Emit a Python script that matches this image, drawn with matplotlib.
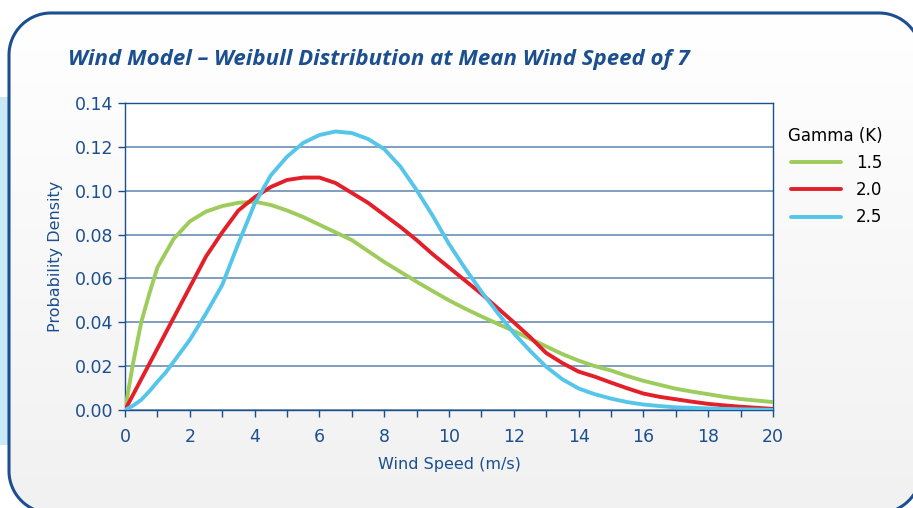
import numpy as np
import matplotlib
matplotlib.use("Agg")
import matplotlib.pyplot as plt
from matplotlib.patches import Polygon, Rectangle

# wind speed samples (m/s)
speed = [0, 0.25, 0.5, 0.75, 1, 1.25, 1.5, 2, 2.5, 3, 3.5, 4, 4.5, 5, 5.5, 6, 6.5,
         7, 7.5, 8, 8.5, 9, 9.5, 10, 10.5, 11, 11.5, 12, 12.5, 13, 13.5, 14, 14.5,
         15, 15.5, 16, 16.5, 17, 17.5, 18, 18.5, 19, 19.5, 20]

# probability density per shape factor
k15 = [0, 0.0214, 0.040, 0.053, 0.065, 0.0715, 0.078, 0.086, 0.0905, 0.093, 0.0945,
       0.095, 0.0935, 0.091, 0.088, 0.0845, 0.081, 0.0775, 0.0725, 0.0675, 0.063,
       0.0585, 0.0542, 0.050, 0.0462, 0.0427, 0.0393, 0.036, 0.0325, 0.029, 0.0255,
       0.0225, 0.020, 0.018, 0.0155, 0.0133, 0.0115, 0.0097, 0.0084, 0.0072, 0.006,
       0.005, 0.0043, 0.0036]
k20 = [0, 0.007, 0.014, 0.021, 0.028, 0.035, 0.042, 0.056, 0.070, 0.081, 0.091,
       0.097, 0.1017, 0.1049, 0.106, 0.106, 0.1035, 0.099, 0.0945, 0.089, 0.0835,
       0.0775, 0.071, 0.065, 0.059, 0.053, 0.0465, 0.040, 0.0333, 0.026, 0.0214,
       0.0175, 0.0152, 0.0125, 0.0099, 0.0075, 0.006, 0.0049, 0.0038, 0.0028, 0.0021,
       0.0015, 0.001, 0.0005]
k25 = [0, 0.002, 0.0046, 0.0085, 0.0129, 0.017, 0.022, 0.032, 0.044, 0.057, 0.076,
       0.094, 0.107, 0.1155, 0.1218, 0.1254, 0.127, 0.1263, 0.1236, 0.119, 0.111,
       0.1003, 0.0885, 0.0757, 0.0645, 0.054, 0.0443, 0.035, 0.027, 0.0197, 0.014,
       0.0098, 0.0072, 0.0052, 0.0036, 0.0025, 0.0018, 0.0012, 0.001, 0.0007, 0.0005,
       0.0003, 0.0002, 0.0]

labels = ["1.5", "2.0", "2.5"]
colors = ["#9dcc5c", "#e31f2a", "#55c6ea"]
navy = "#1b4f8f"

W, H = 913, 508
fig = plt.figure(figsize=(W / 100, H / 100), dpi=100)


def rounded_box(x0, y0, x1, y1, r, n=30):
    # corners in pixel coords, y grows downward
    pts = []
    for cx, cy, a0 in [(x1 - r, y0 + r, -90), (x1 - r, y1 - r, 0),
                       (x0 + r, y1 - r, 90), (x0 + r, y0 + r, 180)]:
        a = np.radians(np.linspace(a0, a0 + 90, n))
        pts += list(zip(cx + r * np.cos(a), cy + r * np.sin(a)))
    return np.array(pts)


# background layer in pixel units
bg = fig.add_axes([0, 0, 1, 1], zorder=-1)
bg.axis("off")
bg.patch.set_alpha(0)
bg.add_patch(Rectangle((0, 97), 10, 348, facecolor="#c9e9f6", edgecolor="none", zorder=0))
grad = np.linspace(1.0, 0.945, 256).reshape(-1, 1)
im = bg.imshow(np.dstack([grad, grad, grad]), extent=[9, 921, 513, 13],
               aspect="auto", zorder=1)
bg.set_xlim(0, W)
bg.set_ylim(H, 0)
outline = rounded_box(9, 13, 921, 513, 42)
im.set_clip_path(Polygon(outline, closed=True, transform=bg.transData))
bg.add_patch(Polygon(outline, closed=True, facecolor="none", edgecolor=navy,
                     linewidth=2.2, zorder=3))

fig.text(68 / W, 1 - 60 / H, "Wind Model \u2013 Weibull Distribution at Mean Wind Speed of 7",
         fontsize=16, fontweight="bold", style="italic", color=navy,
         family="Open Sans", va="center", ha="left")

ax = fig.add_axes([125 / W, 1 - 410 / H, (773 - 125) / W, (410 - 103) / H])
ax.set_facecolor("white")
for y, lab, c in zip([k15, k20, k25], labels, colors):
    ax.plot(speed, y, color=c, lw=2.8, label=lab, solid_capstyle="round",
            solid_joinstyle="round", zorder=3)

ax.set_xlim(0, 20)
ax.set_ylim(0, 0.14)
ax.set_xticks(np.arange(0, 21, 2))
ax.set_xticks(np.arange(0, 21, 1), minor=True)
ax.set_yticks(np.arange(0, 0.141, 0.02))
ax.set_yticklabels(["%.2f" % v for v in np.arange(0, 0.141, 0.02)])
ax.grid(axis="y", color="#5f84ad", lw=1.1)
ax.set_axisbelow(True)
for s in ax.spines.values():
    s.set_color(navy)
    s.set_linewidth(1.0)
ax.tick_params(which="both", direction="out", color=navy, length=5, width=1,
               labelcolor=navy, labelsize=12.5)
ax.tick_params(axis="x", pad=8)
ax.set_xlabel("Wind Speed (m/s)", fontsize=11.5, color=navy, labelpad=8)
ax.set_ylabel("Probability Density", fontsize=11.5, color=navy, labelpad=8)

leg = ax.legend(title="Gamma (K)", loc="upper left", bbox_to_anchor=(1.005, 0.96),
                frameon=False, fontsize=12, title_fontsize=12, handlelength=3.0,
                handletextpad=0.9, labelspacing=0.55, borderaxespad=0.3)
leg._legend_box.align = "right"

fig.savefig("out.png", dpi=100)
